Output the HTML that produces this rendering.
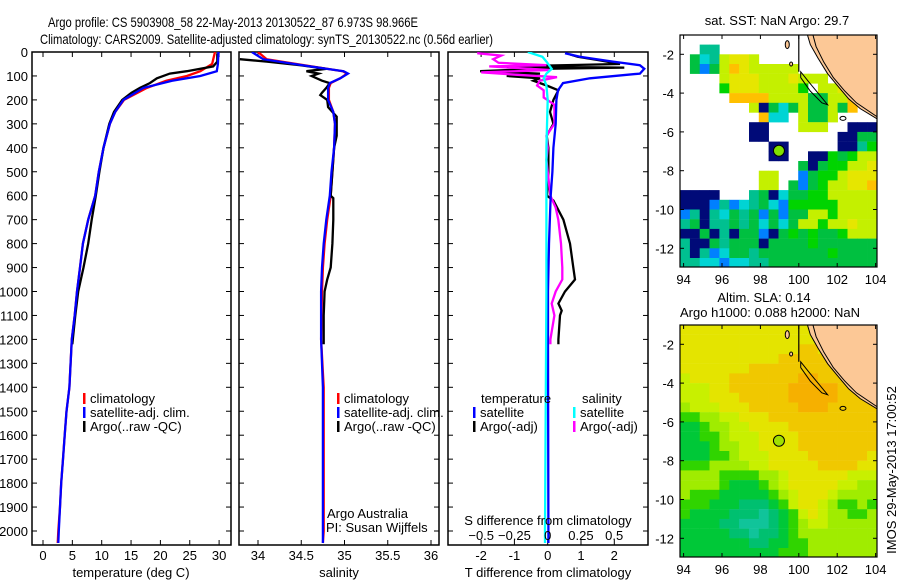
<!DOCTYPE html>
<html><head><meta charset="utf-8"><style>
html,body{margin:0;padding:0;background:#fff;}
svg{display:block;font-family:"Liberation Sans",sans-serif;}
</style></head><body>
<svg id="fig" width="900" height="580" viewBox="0 0 900 580" xmlns="http://www.w3.org/2000/svg">
<text x="48" y="27" font-size="14" textLength="370" lengthAdjust="spacingAndGlyphs">Argo profile: CS 5903908_58 22-May-2013 20130522_87 6.973S 98.966E</text>
<text x="40" y="44" font-size="14" textLength="453" lengthAdjust="spacingAndGlyphs">Climatology: CARS2009. Satellite-adjusted climatology: synTS_20130522.nc (0.56d earlier)</text>
<g id="plots"></g>
</svg>
<script>
// ---------- data ----------
const tDepth = [0,50,80,100,120,150,200,250,300,400,500,600,700,800,900,1000,1100,1200,1400,1500,1600,1700,1800,1900,2000,2050];
const tClim = [29.3,28.8,26.8,24.5,21,17.7,13.8,12.3,11.4,10.3,9.5,8.9,7.7,6.8,6.3,5.8,5.4,4.9,4.5,4.0,3.7,3.4,3.1,2.9,2.6,2.5];
const tSat = [29.9,29.8,29.6,26.8,22,17.1,13.7,12.3,11.4,10.3,9.5,8.9,7.7,6.8,6.3,5.8,5.4,4.9,4.5,4.0,3.7,3.4,3.1,2.9,2.7,2.6];
const argoTDepth = [5,40,60,80,90,110,130,150,170,200,250,300,400,500,600,700,800,900,1000,1100,1220];
const tArgo = [29.7,29.7,29.0,24.5,21.6,19.4,18.2,16.5,15.1,13.5,12.1,11.3,10.3,9.6,9.0,8.3,7.7,6.9,6.0,5.5,5.0];

const sDepth = [0,30,60,80,90,110,130,150,200,250,300,400,500,600,700,800,900,1000,1200,1400,2000,2050];
const sSat = [33.93,34.06,34.6,34.99,35.04,34.95,34.83,34.81,34.81,34.87,34.89,34.88,34.85,34.83,34.79,34.76,34.74,34.73,34.73,34.75,34.75,34.75];
const sClim = [34.0,34.1,34.62,34.98,35.03,34.95,34.84,34.82,34.82,34.87,34.89,34.88,34.86,34.84,34.8,34.77,34.75,34.74,34.73,34.76,34.76,34.75];
const argoSDepth = [30,40,55,70,80,90,100,120,130,150,170,180,200,230,270,300,350,400,500,600,610,700,800,900,950,1000,1100,1220];
const sArgo = [33.79,34.1,34.49,34.79,34.56,34.7,34.62,34.74,34.83,34.79,34.74,34.72,34.8,34.81,34.91,34.91,34.91,34.88,34.86,34.84,34.87,34.87,34.86,34.84,34.8,34.77,34.76,34.76];

const dtSatDepth = [5,20,40,55,70,90,110,130,160,200,300,400,500,600,800,1000,1200,2000,2050];
const dtSat = [0.52,0.97,1.96,2.77,2.9,2.77,1.27,0.46,0.31,0.26,0.24,0.17,0.14,0.09,0.04,0.01,0.01,0.02,0.02];
const dtArgoDepth = [10,20,35,50,60,65,70,80,90,100,110,120,140,160,200,250,300,350,400,500,600,620,700,800,900,950,1000,1050,1080,1100,1200,1220];
const dtArgo = [0.67,0.9,1.57,2.17,-1.23,2.3,-0.23,-2.03,-0.23,-1.23,-0.23,-0.43,-0.03,0.32,0.17,0.07,0.17,-0.03,0.02,0.02,-0.02,0.17,0.47,0.67,0.77,0.82,0.52,0.32,0.42,0.37,0.32,0.32];
const dsArgoDepth = [5,15,30,45,55,60,75,85,95,105,120,140,160,190,220,300,350,400,450,500,600,650,700,800,900,950,1000,1050,1100,1200,1220];
const dsArgo = [-0.53,-0.35,-0.41,-0.37,-0.01,-0.44,0.02,-0.5,-0.23,0.07,-0.06,-0.08,-0.03,-0.03,0.05,0.05,-0.01,0.0,-0.01,0.0,0.02,0.06,0.08,0.1,0.11,0.11,0.06,0.03,0.05,0.02,0.02];
const dsSatDepth = [0,20,40,70,90,110,140,200,400,1000,2000,2050];
const dsSat = [-0.15,-0.04,-0.01,0.03,-0.01,-0.03,-0.01,0.0,-0.01,-0.01,-0.02,-0.02];

const depthTicks = [0,100,200,300,400,500,600,700,800,900,1000,1100,1200,1300,1400,1500,1600,1700,1800,1900,2000];
const tempTicks = [0,5,10,15,20,25,30];
const salTicks = [34,34.5,35,35.5,36];
const dtTicks = [-2,-1,0,1,2];
const dsTicks = [-0.5,-0.25,0,0.25,0.5];
const latTicks = [-2,-4,-6,-8,-10,-12];
const lonTicks = [94,96,98,100,102,104];
const argoLon = 98.966, argoLat = -6.973;

const sstRows = [
"....................",
"..tt................",
".gctyYYy............",
".gbgyoYyyyyy........",
"....yYYYyyyYyyy.....",
"....GYYYyyyyG.yyYy..",
".....ooooyyyyggyyo..",
".......yNgcgyggygo..",
"........occ.yggy....",
".......NN...yyy..NNN",
".......NN.......NNgg",
".........NN.....NNtG",
".........NN..NNGgGyy",
"............gNgGGyyY",
"........yy..bgGGyYYY",
"........yy.gbgGyyYYo",
"NNNN...tgNcggGGyyyyy",
"NNNbtbctgcbGGGGGyyyy",
"btNtcgtgbgbggyyGyyyy",
"tgNttgtgcgcgyyGyyYyy",
"NNgNtNggbNgGgGggGyyy",
"tNNgtgggNggggGgggggg",
"tNtbcggtgggggggGgggg",
"ttccbccttggggggggggg"];
const sstColors = {N:'#000a78',g:'#00c040',G:'#00d400',y:'#c4f000',Y:'#e6e600',o:'#ffc000',t:'#00c090',c:'#00d4d4',b:'#0080ff'};
const slaRows = [
"66666666666666666666","66666666666666666666","66666666666677666666","66666666667777777666",
"66666667777777777666","56666777777788777776","55566777777888887777","55566677777888887777",
"45556667777788877777","33445566677777777777","22344556666777777777","22334555666677777777",
"22234455666677777777","22233455566667777776","33344445566666777766","44443333445666666555",
"44443222345666665544","43332222234566654444","33322211123566543343","32222111012356544334",
"22221100012345544444","22222110112344444444","22222221122334444444","22222222223334444444"];
const slaColors = ['#10c49a','#00c070','#00c838','#30d400','#a0ec00','#c8f000','#e4e400','#f0c800','#f6b000'];

// ---------- helpers ----------
const NS='http://www.w3.org/2000/svg';
const root=document.getElementById('plots');
function mk(tag,attrs,parent){const e=document.createElementNS(NS,tag);for(const k in attrs)e.setAttribute(k,attrs[k]);(parent||root).appendChild(e);return e;}
function txt(x,y,s,size,anchor,parent){const e=mk('text',{x:x,y:y,'font-size':size,'text-anchor':anchor||'start'},parent);e.textContent=s;return e;}

const top0=52, bot0=545;
function yD(d){return top0+d*0.2395;}

function panel(name,x0,x1,xs,xticks,labelFmt){
  const g=mk('g',{});
  
  
  const cid='clip-'+name;
  const cp=mk('clipPath',{id:cid},g);mk('rect',{x:x0,y:top0,width:x1-x0,height:bot0-top0},cp);
  const box=mk('rect',{x:x0,y:top0,width:x1-x0,height:bot0-top0,fill:'none',stroke:'#000','stroke-width':1.5},g);
  
  
  depthTicks.forEach(d=>{const y=yD(d);mk('line',{x1:x0,x2:x0+5,y1:y,y2:y,stroke:'#000'},g);mk('line',{x1:x1-5,x2:x1,y1:y,y2:y,stroke:'#000'},g);});
  xticks.forEach(v=>{const x=xs(v);mk('line',{x1:x,x2:x,y1:top0,y2:top0+5,stroke:'#000'},g);mk('line',{x1:x,x2:x,y1:bot0-5,y2:bot0,stroke:'#000'},g);
    const t=txt(x,560,labelFmt(v),13,'middle',g);
    
    });
  return {g:g,clip:'url(#'+cid+')'};
}
function series(p,xs,depths,vals,color,name){
  let pts=depths.map((d,i)=>xs(vals[i]).toFixed(1)+','+yD(d).toFixed(1)).join(' ');
  const l=mk('polyline',{points:pts,fill:'none',stroke:color,'stroke-width':2.3,'clip-path':p.clip},p.g);
  
  
}
function legendMark(x,y,color,label,parent){
  mk('rect',{x:x,y:y-10,width:2.5,height:11,fill:color},parent);
  const t=txt(x+7,y,label,13,'start',parent);
  
  
}

depthTicks.forEach(d=>{const t=txt(28,yD(d)+5,String(d),13,'end');
  
  });

const xT=v=>43+v*5.87;
const p1=panel('temperature-panel',32,231,xT,tempTicks,v=>String(v));
series(p1,xT,tDepth,tClim,'#ff0000','temp-climatology-line');
series(p1,xT,argoTDepth,tArgo,'#000000','temp-argo-line');
series(p1,xT,tDepth,tSat,'#0000ff','temp-satellite-line');
legendMark(83,403,'#ff0000','climatology',p1.g);
legendMark(83,417,'#0000ff','satellite-adj. clim.',p1.g);
legendMark(83,431,'#000000','Argo(..raw -QC)',p1.g);
{const t=txt(131,577,'temperature (deg C)',13,'middle');}

const xS=v=>258+(v-34)*86.5;
const p2=panel('salinity-panel',239,439,xS,salTicks,v=>String(v));
series(p2,xS,sDepth,sClim,'#ff0000','sal-climatology-line');
series(p2,xS,argoSDepth,sArgo,'#000000','sal-argo-line');
series(p2,xS,sDepth,sSat,'#0000ff','sal-satellite-line');
legendMark(337,403,'#ff0000','climatology',p2.g);
legendMark(337,417,'#0000ff','satellite-adj. clim.',p2.g);
legendMark(337,431,'#000000','Argo(..raw -QC)',p2.g);
txt(327,518,'Argo Australia',13,'start',p2.g);
txt(326,532,'PI: Susan Wijffels',13,'start',p2.g);
{const t=txt(339,577,'salinity',13,'middle');}

const xDT=v=>547.7+v*33.3;
const xDS=v=>547.7+v*133;
const p3=panel('difference-panel',448,648,xDT,dtTicks,v=>String(v));
series(p3,xDT,dtArgoDepth,dtArgo,'#000000','tdiff-argo-line');
series(p3,xDS,dsArgoDepth,dsArgo,'#ff00ff','sdiff-argo-line');
series(p3,xDT,dtSatDepth,dtSat,'#0000ff','tdiff-satellite-line');
series(p3,xDS,dsSatDepth,dsSat,'#00ffff','sdiff-satellite-line');
txt(481,403,'temperature',13,'start',p3.g);
txt(582,403,'salinity',13,'start',p3.g);
legendMark(473,417,'#0000ff','satellite',p3.g);
legendMark(473,431,'#000000','Argo(-adj)',p3.g);
legendMark(573,417,'#00ffff','satellite',p3.g);
legendMark(573,431,'#ff00ff','Argo(-adj)',p3.g);
txt(548,525,'S difference from climatology',13,'middle',p3.g);
dsTicks.forEach(v=>{const t=txt(xDS(v),540,String(v).replace('-','−'),13,'middle',p3.g);
  
  });
{const t=txt(548,577,'T difference from climatology',13,'middle');}

// ---------- maps ----------
function map(name,yTop,title,rows,colorFn,markFill){
  const g=mk('g',{});
  
  
  const x0=680,x1=877,yB=yTop+232;
  const lonX=l=>683.6+(l-94)*19.2;
  const latY=l=>yTop+19.3+(-2-l)*19.4;
  const cw=(x1-x0)/20;
  const cid='clip-'+name;
  const cp=mk('clipPath',{id:cid},g);mk('rect',{x:x0,y:yTop,width:x1-x0,height:yB-yTop},cp);
  const cells=mk('g',{'clip-path':'url(#'+cid+')'},g);
  rows.forEach((r,i)=>{for(let j=0;j<r.length;j++){const c=colorFn(r[j]);if(!c)continue;
    const x=x0+j*cw,y=latY(-1-0.5*i);
    const cell=mk('rect',{x:x.toFixed(1),y:y.toFixed(1),width:(cw+0.3).toFixed(2),height:9.9,fill:c},cells);
    
    }});
  const land=[[100.3,-0.5],[100.6,-1.5],[101,-2.2],[101.5,-3],[102,-3.6],[102.6,-4.3],[103.2,-4.8],[104.2,-5.4],[104.2,-0.5]];
  const lp=mk('polygon',{points:land.map(p=>lonX(p[0])+','+latY(p[1])).join(' '),fill:'#fcc896',stroke:'#000','stroke-width':1,'clip-path':'url(#'+cid+')'},g);
  
  
  const coast2=[[100.6,-0.5],[100.9,-1.6],[101.3,-2.4],[101.8,-3.2],[102.4,-3.9],[103,-4.5],[104.2,-5.3]];
  mk('polyline',{points:coast2.map(p=>lonX(p[0])+','+latY(p[1])).join(' '),fill:'none',stroke:'#000','stroke-width':1,'clip-path':'url(#'+cid+')'},g);
  const isl=[[100.1,-2.9],[100.5,-3.4],[101,-4],[101.5,-4.6],[101.2,-4.5],[100.6,-3.9],[100.1,-3.2]];
  mk('polygon',{points:isl.map(p=>lonX(p[0])+','+latY(p[1])).join(' '),fill:'none',stroke:'#000','stroke-width':1},g);
  mk('ellipse',{cx:lonX(99.4),cy:latY(-1.5),rx:2,ry:4,fill:'#fcc896',stroke:'#000'},g);
  mk('ellipse',{cx:lonX(99.6),cy:latY(-2.5),rx:1.5,ry:2,fill:'#fcc896',stroke:'#000'},g);
  mk('ellipse',{cx:lonX(102.3),cy:latY(-5.3),rx:3,ry:2,fill:'none',stroke:'#000'},g);
  mk('line',{x1:lonX(100),x2:lonX(100),y1:yTop,y2:latY(-2.9),stroke:'#000','stroke-width':1.2},g);
  const m=mk('circle',{cx:lonX(argoLon),cy:latY(argoLat),r:5.5,fill:markFill,stroke:'#000','stroke-width':1},g);
  
  
  mk('rect',{x:x0,y:yTop,width:x1-x0,height:yB-yTop,fill:'none',stroke:'#000','stroke-width':1.2},g);
  latTicks.forEach(l=>{const y=latY(l);mk('line',{x1:x0,x2:x0+4,y1:y,y2:y,stroke:'#000'},g);mk('line',{x1:x1-4,x2:x1,y1:y,y2:y,stroke:'#000'},g);
    const t=txt(674,y+5,String(l),13,'end',g);
    
    });
  lonTicks.forEach(l=>{const x=lonX(l);mk('line',{x1:x,x2:x,y1:yTop,y2:yTop+4,stroke:'#000'},g);mk('line',{x1:x,x2:x,y1:yB-4,y2:yB,stroke:'#000'},g);
    const t=txt(x,yB+17,String(l),13,'middle',g);
    
    });
  title.forEach((s,i)=>{const t=txt(s[1],s[2],s[0],13,'middle',g);
    
    });
}
map('sst-map',35,[['sat. SST: NaN Argo: 29.7',777,25]],sstRows,c=>sstColors[c]||null,'#80e000');
map('sla-map',325,[['Altim. SLA: 0.14',764,302],['Argo h1000: 0.088 h2000: NaN',770,317]],slaRows,c=>slaColors[+c],'#a0e000');
{const t=mk('text',{x:0,y:0,'font-size':13,'text-anchor':'middle',transform:'translate(896,470) rotate(-90)'});
 t.textContent='IMOS 29-May-2013 17:00:52';
 
 }
</script>
</body></html>
